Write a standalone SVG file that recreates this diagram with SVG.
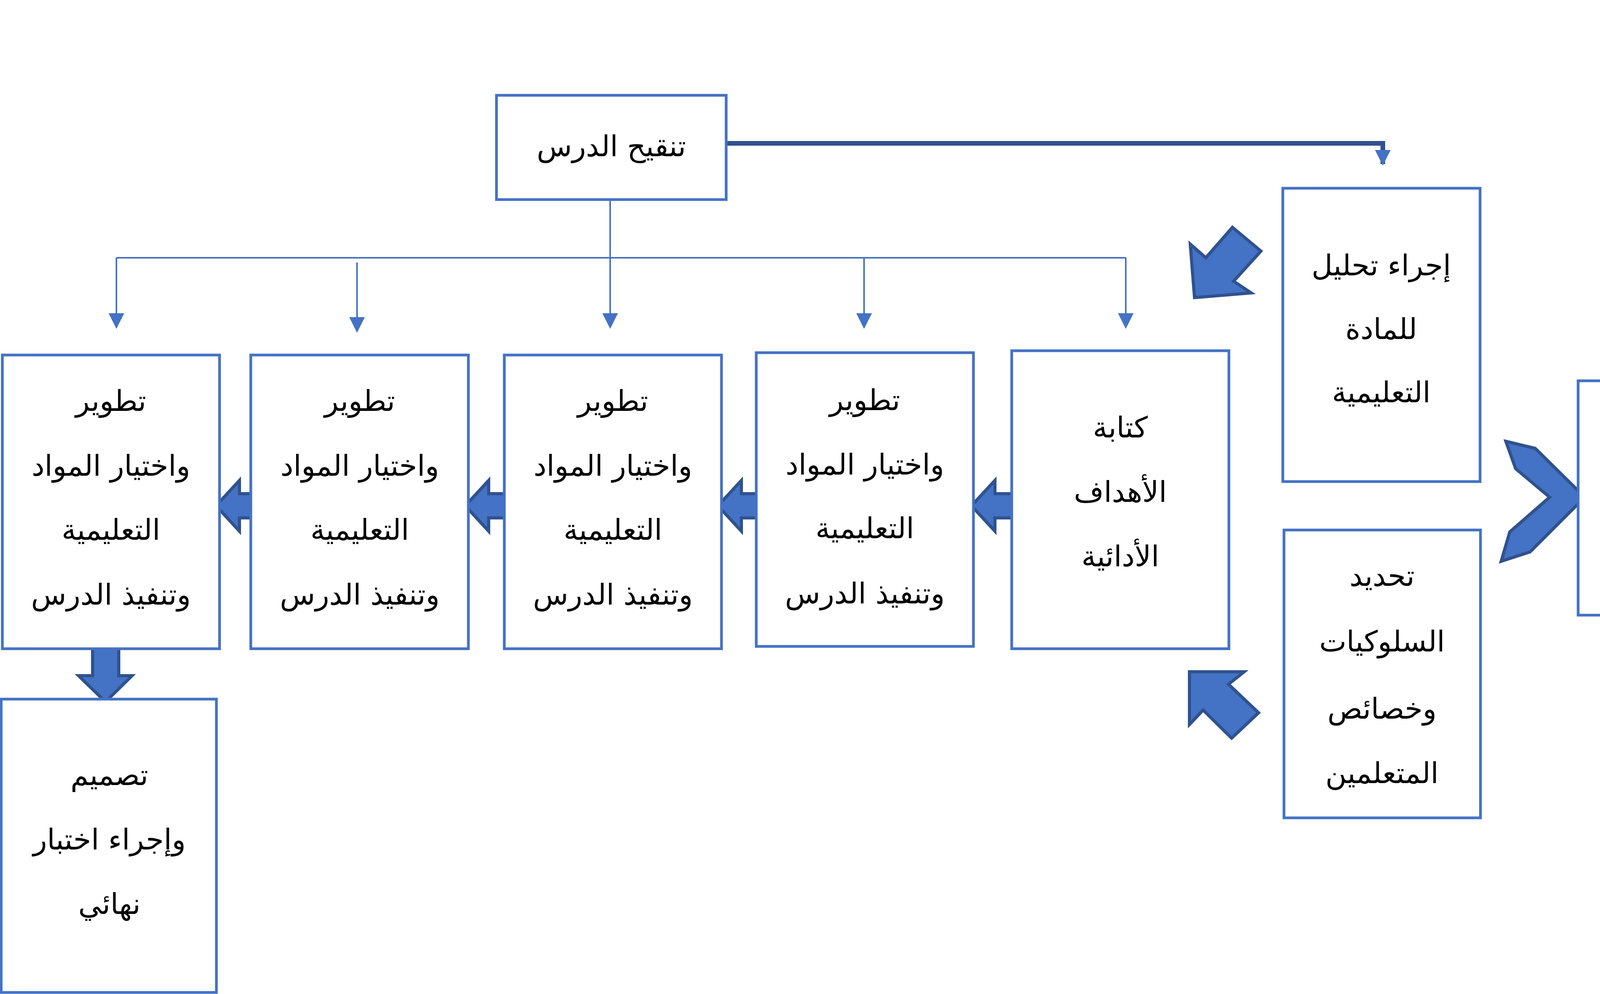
<svg xmlns="http://www.w3.org/2000/svg" width="4483" height="2545" viewBox="0 0 4483 2545">
<style>
.box{fill:#fff;stroke:#4472C4;stroke-width:7}
.t{font-family:"DejaVu Sans","Noto Sans",sans-serif;font-size:74px;fill:#000;text-anchor:middle;direction:rtl}
.ln{stroke:#4472C4;stroke-width:4;fill:none}
.blk{fill:#4472C4;stroke:#2F528F;stroke-width:8}
</style>
<defs>
<marker id="ah" markerWidth="10" markerHeight="10" refX="5" refY="9" orient="auto" markerUnits="userSpaceOnUse" viewBox="0 0 10 10">
<path d="M0,0 L10,0 L5,10 Z" fill="#4472C4"/>
</marker>
<marker id="ah2" viewBox="0 0 10 10" refX="9" refY="5" markerWidth="40" markerHeight="40" orient="auto" markerUnits="userSpaceOnUse"><path d="M0,0 L10,5 L0,10 Z" fill="#4472C4"/></marker>
</defs>
<rect width="4483" height="2545" fill="#fff"/>
<g id="connectors">
<polyline points="1859,367 3540,367 3540,420" fill="none" stroke="#2F528F" stroke-width="12" marker-end="url(#ah2)"/>
<line class="ln" x1="1562" y1="511" x2="1562" y2="660"/>
<line class="ln" x1="298" y1="660" x2="2882" y2="660"/>
<line class="ln" x1="298" y1="660" x2="298" y2="838" marker-end="url(#ah2)"/>
<line class="ln" x1="914" y1="672" x2="914" y2="848" marker-end="url(#ah2)"/>
<line class="ln" x1="1562" y1="660" x2="1562" y2="838" marker-end="url(#ah2)"/>
<line class="ln" x1="2212" y1="660" x2="2212" y2="838" marker-end="url(#ah2)"/>
<line class="ln" x1="2882" y1="660" x2="2882" y2="838" marker-end="url(#ah2)"/>
<polygon class="blk" points="3155,582 3228,643 3158,720 3203,750 3058,762 3047,625 3087,660"/>
<polygon class="blk" points="3855,1130 3930,1148 4057,1273 3917,1413 3843,1437 3865,1362 3967,1273 3880,1200"/>
<polygon class="blk" points="3045,1720 3185,1720 3145,1752 3222,1825 3153,1890 3080,1818 3045,1855"/>
<polygon class="blk" points="553,1295 613,1230 613,1264 671,1264 671,1326 613,1326 613,1360"/>
<polygon class="blk" points="1191,1295 1251,1230 1251,1264 1309,1264 1309,1326 1251,1326 1251,1360"/>
<polygon class="blk" points="1838,1295 1898,1230 1898,1264 1956,1264 1956,1326 1898,1326 1898,1360"/>
<polygon class="blk" points="2487,1295 2547,1230 2547,1264 2605,1264 2605,1326 2547,1326 2547,1360"/>
<polygon class="blk" points="237,1645 304,1645 304,1730 338,1730 270,1797 201,1730 237,1730"/>
</g>
<g id="n-tanqih"><rect class="box" x="1271" y="244" width="588" height="267"/><text class="t" x="1565" y="400">تنقيح الدرس</text></g>
<g id="n-ijra"><rect class="box" x="3284" y="482" width="505" height="751"/>
<text class="t" x="3536" y="705">إجراء تحليل</text><text class="t" x="3536" y="868">للمادة</text><text class="t" x="3536" y="1030">التعليمية</text></g>
<g id="n-ahdaf"><rect class="box" x="4040" y="975" width="430" height="600"/>
<text class="t" x="4255" y="1120">تحديد</text><text class="t" x="4255" y="1280">الأهداف</text><text class="t" x="4255" y="1443">التدريسية</text></g>
<g id="n-suluk"><rect class="box" x="3287" y="1357" width="503" height="737"/>
<text class="t" x="3538" y="1500">تحديد</text><text class="t" x="3538" y="1668">السلوكيات</text><text class="t" x="3538" y="1840">وخصائص</text><text class="t" x="3538" y="2005">المتعلمين</text></g>
<g id="n-kitaba"><rect class="box" x="2590" y="898" width="556" height="763"/>
<text class="t" x="2868" y="1120">كتابة</text><text class="t" x="2868" y="1285">الأهداف</text><text class="t" x="2868" y="1450">الأدائية</text></g>
<g id="n-tatwir4"><rect class="box" x="1936" y="903" width="556" height="752"/>
<text class="t" x="2214" y="1050">تطوير</text><text class="t" x="2214" y="1215">واختيار المواد</text><text class="t" x="2214" y="1378">التعليمية</text><text class="t" x="2214" y="1545">وتنفيذ الدرس</text></g>
<g id="n-tatwir3"><rect class="box" x="1291" y="909" width="556" height="752"/>
<text class="t" x="1569" y="1052">تطوير</text><text class="t" x="1569" y="1218">واختيار المواد</text><text class="t" x="1569" y="1382">التعليمية</text><text class="t" x="1569" y="1548">وتنفيذ الدرس</text></g>
<g id="n-tatwir2"><rect class="box" x="642" y="909" width="557" height="752"/>
<text class="t" x="921" y="1052">تطوير</text><text class="t" x="921" y="1218">واختيار المواد</text><text class="t" x="921" y="1382">التعليمية</text><text class="t" x="921" y="1548">وتنفيذ الدرس</text></g>
<g id="n-tatwir1"><rect class="box" x="6" y="909" width="556" height="752"/>
<text class="t" x="284" y="1052">تطوير</text><text class="t" x="284" y="1218">واختيار المواد</text><text class="t" x="284" y="1382">التعليمية</text><text class="t" x="284" y="1548">وتنفيذ الدرس</text></g>
<g id="n-tasmim"><rect class="box" x="3" y="1790" width="551" height="751"/>
<text class="t" x="280" y="2010">تصميم</text><text class="t" x="280" y="2175">وإجراء اختبار</text><text class="t" x="280" y="2340">نهائي</text></g>
</svg>
